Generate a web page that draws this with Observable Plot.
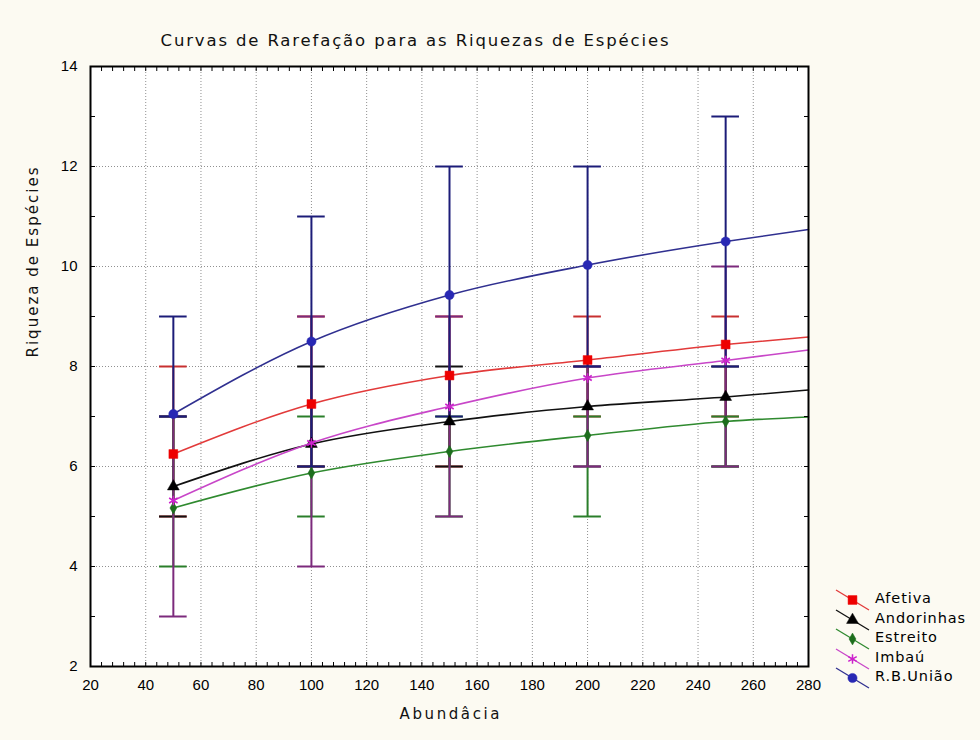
<!DOCTYPE html>
<html><head><meta charset="utf-8">
<script src="https://cdn.jsdelivr.net/npm/d3@7"></script>
<script src="https://cdn.jsdelivr.net/npm/@observablehq/plot@0.6"></script>
<style>
body{margin:0;background:#fcfaf2;font-family:"Liberation Sans",Arial,sans-serif;}
#wrap{position:relative;width:980px;height:740px;overflow:hidden;}
#legend{position:absolute;left:833px;top:590px;}
.row{position:relative;height:19.5px;}
.row svg{position:absolute;left:0;top:-4px;}
.row span{position:absolute;left:42px;top:0px;font-family:"DejaVu Sans",sans-serif;font-size:14.5px;letter-spacing:0.9px;color:#000;white-space:nowrap;}
</style></head><body><div id="wrap"><div id="chart"></div><div id="legend"></div></div>
<script>
const title = "Curvas de Rarefação para as Riquezas de Espécies";
const xLabel = "Abundâcia";
const yLabel = "Riqueza de Espécies";
const seriesNames = ["Afetiva", "Andorinhas", "Estreito", "Imbaú", "R.B.União"];
// curve points (abundance, richness)
const curveX = [50, 100, 150, 200, 250, 280];
const afetivaCurve    = [6.25, 7.25, 7.82, 8.13, 8.44, 8.59];
const andorinhasCurve = [5.60, 6.45, 6.90, 7.20, 7.39, 7.53];
const estreitoCurve   = [5.17, 5.87, 6.30, 6.62, 6.90, 6.99];
const imbauCurve      = [5.32, 6.47, 7.20, 7.77, 8.12, 8.33];
const rbuniaoCurve    = [7.05, 8.50, 9.43, 10.03, 10.50, 10.74];
// error bars at the marked abundances
const barX = [50, 100, 150, 200, 250];
const afetivaLow     = [5, 6, 6, 7, 7];
const afetivaHigh    = [8, 9, 9, 9, 9];
const andorinhasLow  = [5, 6, 6, 6, 6];
const andorinhasHigh = [7, 8, 8, 8, 8];
const estreitoLow    = [4, 5, 5, 5, 6];
const estreitoHigh   = [7, 7, 7, 7, 7];
const imbauLow       = [3, 4, 5, 6, 6];
const imbauHigh      = [7, 9, 9, 8, 10];
const rbuniaoLow     = [7, 6, 7, 8, 8];
const rbuniaoHigh    = [9, 11, 12, 12, 13];
const xTicks = [20, 40, 60, 80, 100, 120, 140, 160, 180, 200, 220, 240, 260, 280];
const yTicks = [2, 4, 6, 8, 10, 12, 14];
const xMinorTicks = d3.range(20, 281, 4);
const yMinorTicks = d3.range(2, 14.01, 1);

const curves = [afetivaCurve, andorinhasCurve, estreitoCurve, imbauCurve, rbuniaoCurve];
const lows = [afetivaLow, andorinhasLow, estreitoLow, imbauLow, rbuniaoLow];
const highs = [afetivaHigh, andorinhasHigh, estreitoHigh, imbauHigh, rbuniaoHigh];
const styles = [
  {line: "#e23a3a", bar: "#c83030", mark: "#ee0000", symbol: "square", r: 5, fill: true},
  {line: "#111111", bar: "#111111", mark: "#000000", symbol: "triangle", r: 4.4, fill: true},
  {line: "#2f8a2f", bar: "#2a7e2a", mark: "#1d6e1d", symbol: "diamond", r: 3.6, fill: true},
  {line: "#c846c8", bar: "#7c2a7c", mark: "#cc22cc", symbol: "asterisk", r: 4.6, fill: false},
  {line: "#303090", bar: "#1c1c78", mark: "#2828b4", symbol: "circle", r: 4.6, fill: true}
];
const labelFont = "'DejaVu Sans', sans-serif";

const marks = [
  Plot.frame({fill: "white", stroke: null}),
  Plot.gridX(xTicks.slice(1, -1), {stroke: "#909090", strokeOpacity: 1, strokeDasharray: "1,2"}),
  Plot.gridY(yTicks.slice(1, -1), {stroke: "#909090", strokeOpacity: 1, strokeDasharray: "1,2"})
];

seriesNames.forEach((name, i) => {
  const st = styles[i];
  const barRows = barX.map((x, j) => ({x, lo: lows[i][j], hi: highs[i][j]}));
  marks.push(Plot.ruleX(barRows, {x: "x", y1: "lo", y2: "hi", stroke: st.bar, strokeWidth: 2}));
  marks.push(Plot.ruleY(barRows, {y: "lo", x1: d => d.x - 5, x2: d => d.x + 5, stroke: st.bar, strokeWidth: 2}));
  marks.push(Plot.ruleY(barRows, {y: "hi", x1: d => d.x - 5, x2: d => d.x + 5, stroke: st.bar, strokeWidth: 2}));
});
seriesNames.forEach((name, i) => {
  const st = styles[i];
  const lineRows = curveX.map((x, j) => ({x, y: curves[i][j]}));
  const ptRows = barX.map(x => ({x, y: curves[i][curveX.indexOf(x)]}));
  marks.push(Plot.line(lineRows, {x: "x", y: "y", stroke: st.line, strokeWidth: 1.6, curve: "monotone-x"}));
  marks.push(Plot.dot(ptRows, {x: "x", y: "y", symbol: st.symbol, r: st.r,
    fill: st.fill ? st.mark : "none", stroke: st.mark, strokeWidth: st.fill ? 0.5 : 1.6}));
});

marks.push(
  Plot.axisX(xMinorTicks, {anchor: "top", tickSize: 4, dy: 4, tickFormat: () => "", label: null}),
  Plot.axisX(xMinorTicks, {anchor: "bottom", tickSize: 4, dy: -4, tickFormat: () => "", label: null}),
  Plot.axisY(yMinorTicks, {anchor: "left", tickSize: 5, dx: 5, tickFormat: () => "", label: null}),
  Plot.axisY(yMinorTicks, {anchor: "right", tickSize: 5, dx: -5, tickFormat: () => "", label: null}),
  Plot.axisX(xTicks, {anchor: "bottom", tickSize: 0, tickPadding: 13, label: null, fontSize: 15, tickFormat: d3.format("d")}),
  Plot.axisY(yTicks, {anchor: "left", tickSize: 0, tickPadding: 13, label: null, fontSize: 15, tickFormat: d3.format("d")}),
  Plot.frame({stroke: "#000", strokeWidth: 2}),
  Plot.text([title], {text: d => d, frameAnchor: "top", dy: -32, dx: -35, fontSize: 16.5, fontFamily: labelFont, fill: "#111"}),
  Plot.text([xLabel], {text: d => d, frameAnchor: "bottom", dy: 52, fontSize: 15, fontFamily: labelFont, fill: "#111"}),
  Plot.text([yLabel], {text: d => d, frameAnchor: "left", dx: -57, dy: -9, rotate: -90, fontSize: 15, fontFamily: labelFont, fill: "#111"})
);

const chart = Plot.plot({
  width: 980, height: 740,
  marginLeft: 90, marginRight: 172, marginTop: 66, marginBottom: 74,
  style: {background: "transparent", fontFamily: "'Liberation Sans', Arial, sans-serif", color: "#000", overflow: "visible"},
  x: {domain: [20, 280]},
  y: {domain: [2, 14]},
  marks
});
document.getElementById("chart").appendChild(chart);

// stretch the bitmap-like label spacing of the original
const fit = (label, len) => d3.select(chart).selectAll("text")
  .filter(function() { return this.textContent === label; })
  .attr("textLength", len).attr("lengthAdjust", "spacing");
fit(title, 508);
fit(xLabel, 100);
fit(yLabel, 190);

// legend
const legend = document.getElementById("legend");
seriesNames.forEach((name, i) => {
  const st = styles[i];
  const row = document.createElement("div");
  row.className = "row";
  const sym = d3.symbol(d3["symbol" + st.symbol[0].toUpperCase() + st.symbol.slice(1)], st.r * st.r * Math.PI)();
  row.innerHTML = `<svg width="40" height="28" viewBox="0 0 40 28">
    <line x1="3" y1="4" x2="36" y2="24" stroke="${st.line}" stroke-width="1.3"/>
    <path d="${sym}" transform="translate(19.5,14)" fill="${st.fill ? st.mark : "none"}" stroke="${st.mark}" stroke-width="${st.fill ? 0.5 : 1.5}"/>
  </svg><span>${name}</span>`;
  legend.appendChild(row);
});
</script></body></html>
